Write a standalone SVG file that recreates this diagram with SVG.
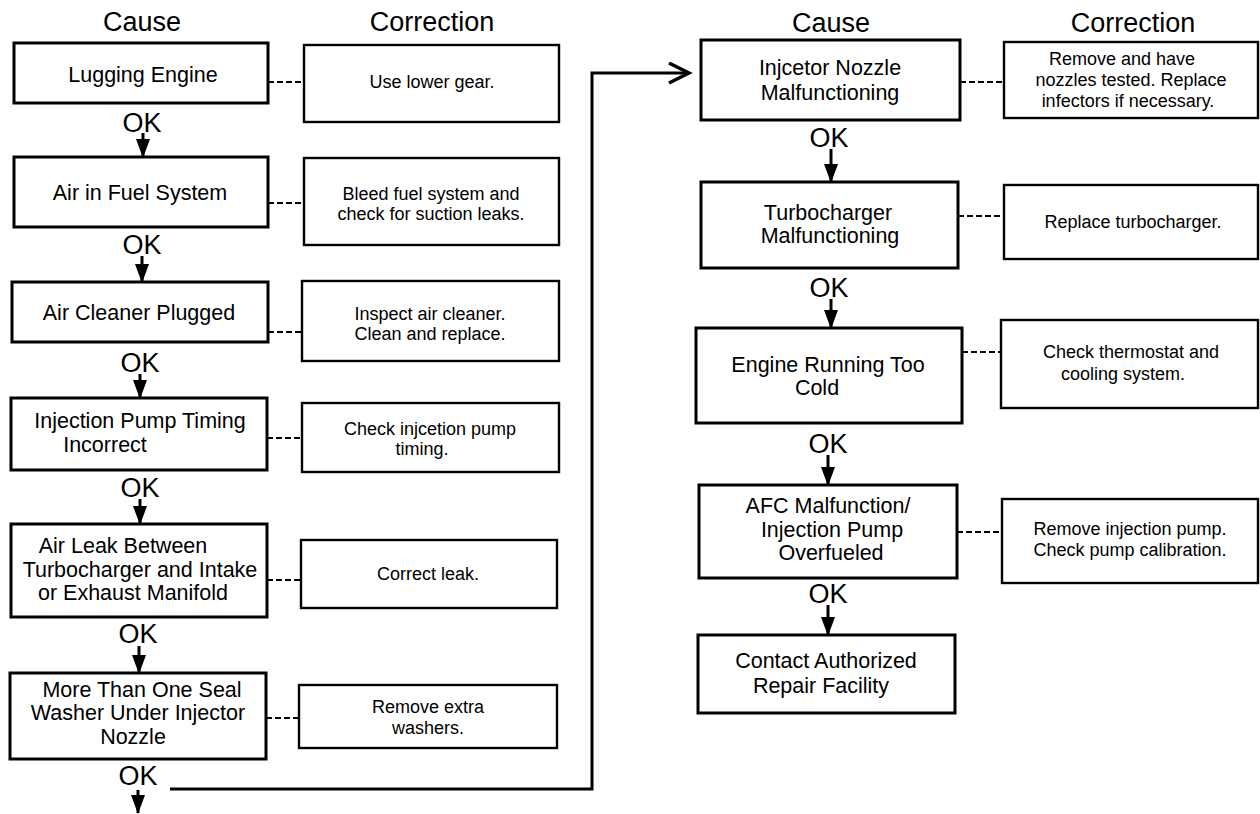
<svg xmlns="http://www.w3.org/2000/svg" width="1260" height="814" viewBox="0 0 1260 814">
<style>
text{font-family:"Liberation Sans",Arial,Helvetica,sans-serif;fill:#000;text-anchor:middle}
.hdr{font-size:27px}
.ok{font-size:27px}
.ct{font-size:21.5px}
.rt{font-size:18px}
.cause{fill:#fff;stroke:#000;stroke-width:3}
.corr{fill:#fff;stroke:#000;stroke-width:2.4}
.dash{stroke:#000;stroke-width:2;stroke-dasharray:6,3;fill:none}
.arr{stroke:#000;stroke-width:3;fill:none}
</style>
<defs>
<marker id="ah" markerUnits="userSpaceOnUse" markerWidth="19" markerHeight="16" refX="18" refY="8" orient="auto">
<path d="M0,1 L19,8 L0,15 z" fill="#000"/>
</marker>
<marker id="open" markerUnits="userSpaceOnUse" markerWidth="26" markerHeight="26" refX="22" refY="11" orient="auto">
<path d="M2,1 L22,11 L2,21" fill="none" stroke="#000" stroke-width="3.4"/>
</marker>
</defs>
<rect width="1260" height="814" fill="#fff"/>

<g id="headers">
<text class="hdr" x="142" y="31">Cause</text>
<text class="hdr" x="432" y="31">Correction</text>
<text class="hdr" x="831" y="32">Cause</text>
<text class="hdr" x="1133" y="32">Correction</text>
</g>

<g id="connectors">
<line class="dash" x1="268" y1="82" x2="304" y2="82"/>
<line class="dash" x1="268" y1="203" x2="304" y2="203"/>
<line class="dash" x1="268" y1="332" x2="302" y2="332"/>
<line class="dash" x1="267" y1="438" x2="302" y2="438" stroke-dasharray="3,2"/>
<line class="dash" x1="267" y1="580" x2="301" y2="580" stroke-dasharray="3,2"/>
<line class="dash" x1="266" y1="718" x2="299" y2="718"/>
<line class="dash" x1="960" y1="82" x2="1004" y2="82"/>
<line class="dash" x1="958" y1="216" x2="1004" y2="216"/>
<line class="dash" x1="962" y1="352" x2="1001" y2="352"/>
<line class="dash" x1="957" y1="532" x2="1002" y2="532" stroke-dasharray="3,2"/>
<line class="arr" x1="143" y1="133" x2="143" y2="157" marker-end="url(#ah)"/>
<line class="arr" x1="142" y1="256" x2="142" y2="282" marker-end="url(#ah)"/>
<line class="arr" x1="140" y1="374" x2="140" y2="398" marker-end="url(#ah)"/>
<line class="arr" x1="140" y1="499" x2="140" y2="524" marker-end="url(#ah)"/>
<line class="arr" x1="139" y1="646" x2="139" y2="673" marker-end="url(#ah)"/>
<line class="arr" x1="138" y1="790" x2="138" y2="813" marker-end="url(#ah)"/>
<line class="arr" x1="831" y1="149" x2="831" y2="182" marker-end="url(#ah)"/>
<line class="arr" x1="831" y1="299" x2="831" y2="328" marker-end="url(#ah)"/>
<line class="arr" x1="828" y1="455" x2="828" y2="485" marker-end="url(#ah)"/>
<line class="arr" x1="828" y1="605" x2="828" y2="635" marker-end="url(#ah)"/>
<polyline class="arr" points="170,789 592,789 592,73 689,73" marker-end="url(#open)"/>
<text class="ok" x="142" y="132">OK</text>
<text class="ok" x="142" y="254">OK</text>
<text class="ok" x="140" y="372">OK</text>
<text class="ok" x="140" y="497">OK</text>
<text class="ok" x="138" y="643">OK</text>
<text class="ok" x="138" y="785">OK</text>
<text class="ok" x="829" y="147">OK</text>
<text class="ok" x="829" y="297">OK</text>
<text class="ok" x="828" y="453">OK</text>
<text class="ok" x="828" y="603">OK</text>
</g>

<g id="cause-lugging">
<rect class="cause" x="14" y="43" width="254" height="60"/>
<text class="ct" x="143" y="82">Lugging Engine</text>
</g>
<g id="corr-lugging">
<rect class="corr" x="304" y="45" width="255" height="77"/>
<text class="rt" x="432" y="88" font-size="17">Use lower gear.</text>
</g>

<g id="cause-air-fuel">
<rect class="cause" x="14" y="157" width="254" height="70"/>
<text class="ct" x="140" y="200">Air in Fuel System</text>
</g>
<g id="corr-air-fuel">
<rect class="corr" x="304" y="158" width="255" height="87"/>
<text class="rt" x="431" y="200">Bleed fuel system and</text>
<text class="rt" x="431" y="220">check for suction leaks.</text>
</g>

<g id="cause-air-cleaner">
<rect class="cause" x="12" y="282" width="256" height="60"/>
<text class="ct" x="139" y="320">Air Cleaner Plugged</text>
</g>
<g id="corr-air-cleaner">
<rect class="corr" x="302" y="281" width="257" height="80"/>
<text class="rt" x="430" y="320">Inspect air cleaner.</text>
<text class="rt" x="430" y="340">Clean and replace.</text>
</g>

<g id="cause-pump-timing">
<rect class="cause" x="11" y="398" width="256" height="72"/>
<text class="ct" x="140" y="428">Injection Pump Timing</text>
<text class="ct" x="105" y="452">Incorrect</text>
</g>
<g id="corr-pump-timing">
<rect class="corr" x="302" y="403" width="257" height="69"/>
<text class="rt" x="430" y="435">Check injcetion pump</text>
<text class="rt" x="422" y="455">timing.</text>
</g>

<g id="cause-air-leak">
<rect class="cause" x="11" y="524" width="256" height="93"/>
<text class="ct" x="123" y="553">Air Leak Between</text>
<text class="ct" x="140" y="577">Turbocharger and Intake</text>
<text class="ct" x="133" y="600">or Exhaust Manifold</text>
</g>
<g id="corr-air-leak">
<rect class="corr" x="301" y="540" width="256" height="68"/>
<text class="rt" x="428" y="580">Correct leak.</text>
</g>

<g id="cause-seal-washer">
<rect class="cause" x="10" y="673" width="256" height="86"/>
<text class="ct" x="142" y="697">More Than One Seal</text>
<text class="ct" x="138" y="720">Washer Under Injector</text>
<text class="ct" x="133" y="744">Nozzle</text>
</g>
<g id="corr-seal-washer">
<rect class="corr" x="299" y="685" width="258" height="63"/>
<text class="rt" x="428" y="713">Remove extra</text>
<text class="rt" x="428" y="734">washers.</text>
</g>

<g id="cause-nozzle">
<rect class="cause" x="701" y="40" width="259" height="80"/>
<text class="ct" x="830" y="75">Injcetor Nozzle</text>
<text class="ct" x="830" y="100">Malfunctioning</text>
</g>
<g id="corr-nozzle">
<rect class="corr" x="1004" y="42" width="254" height="76"/>
<text class="rt" x="1122" y="65">Remove and have</text>
<text class="rt" x="1131" y="86">nozzles tested. Replace</text>
<text class="rt" x="1128" y="107">infectors if necessary.</text>
</g>

<g id="cause-turbo">
<rect class="cause" x="701" y="182" width="257" height="86"/>
<text class="ct" x="828" y="220">Turbocharger</text>
<text class="ct" x="830" y="243">Malfunctioning</text>
</g>
<g id="corr-turbo">
<rect class="corr" x="1004" y="185" width="254" height="74"/>
<text class="rt" x="1133" y="228">Replace turbocharger.</text>
</g>

<g id="cause-cold">
<rect class="cause" x="696" y="328" width="266" height="95"/>
<text class="ct" x="828" y="372">Engine Running Too</text>
<text class="ct" x="817" y="395">Cold</text>
</g>
<g id="corr-cold">
<rect class="corr" x="1001" y="320" width="257" height="88"/>
<text class="rt" x="1131" y="358">Check thermostat and</text>
<text class="rt" x="1123" y="380">cooling system.</text>
</g>

<g id="cause-afc">
<rect class="cause" x="699" y="485" width="258" height="93"/>
<text class="ct" x="828" y="513">AFC Malfunction/</text>
<text class="ct" x="832" y="537">Injection Pump</text>
<text class="ct" x="831" y="560">Overfueled</text>
</g>
<g id="corr-afc">
<rect class="corr" x="1002" y="499" width="256" height="84"/>
<text class="rt" x="1130" y="535">Remove injection pump.</text>
<text class="rt" x="1130" y="556">Check pump calibration.</text>
</g>

<g id="cause-contact">
<rect class="cause" x="698" y="635" width="257" height="78"/>
<text class="ct" x="826" y="668">Contact Authorized</text>
<text class="ct" x="821" y="693">Repair Facility</text>
</g>
</svg>
